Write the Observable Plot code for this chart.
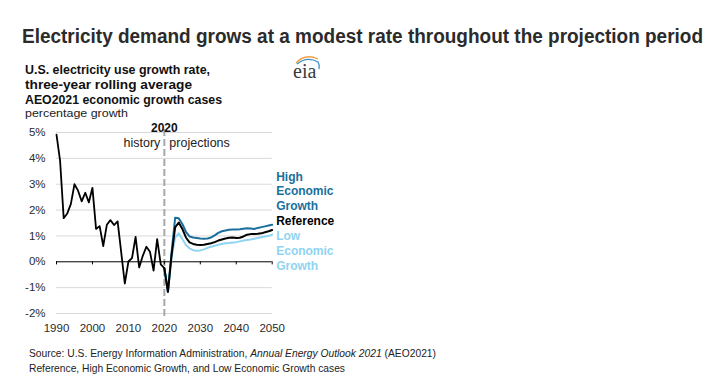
<!DOCTYPE html>
<html>
<head>
<meta charset="utf-8">
<script src="https://cdn.jsdelivr.net/npm/d3@7"></script>
<script src="https://cdn.jsdelivr.net/npm/@observablehq/plot@0.6"></script>
<style>
  html, body { margin: 0; padding: 0; background: #fff; }
  #root { position: relative; width: 713px; height: 382px; overflow: hidden; font-family: "Liberation Sans", Arial, sans-serif; color: #2b2b2b; }
  .t { position: absolute; white-space: nowrap; transform-origin: 0 0; line-height: 1; }
  #chart { position: absolute; left: 0; top: 110px; }
</style>
</head>
<body>
<div id="root">
  <div id="chart"></div>
  <div class="t" id="title" style="left:22px; top:26px; font-size:20px; font-weight:bold;">Electricity demand grows at a modest rate throughout the projection period</div>
  <div class="t" id="s1" style="left:25px; top:64px; font-size:12.5px; font-weight:bold; color:#111;">U.S. electricity use growth rate,</div>
  <div class="t" id="s2" style="left:25px; top:79px; font-size:12.5px; font-weight:bold; color:#111;">three-year rolling average</div>
  <div class="t" id="s3" style="left:25px; top:94px; font-size:12.5px; font-weight:bold; color:#111;">AEO2021 economic growth cases</div>
  <div class="t" id="s4" style="left:25px; top:108px; font-size:11.5px; color:#222;">percentage growth</div>
  <div class="t" id="src1" style="left:29px; top:348px; font-size:10.5px; color:#222;">Source: U.S. Energy Information Administration, <i>Annual Energy Outlook 2021</i> (AEO2021)</div>
  <div class="t" id="src2" style="left:29px; top:363px; font-size:10.5px; color:#222;">Reference, High Economic Growth, and Low Economic Growth cases</div>
  <svg style="position:absolute; left:288px; top:50px;" width="36" height="32" viewBox="0 0 36 32">
    <path d="M8 13 Q17 3 30 9" fill="none" stroke="#f0a04b" stroke-width="1.3"/>
    <path d="M9 14 Q19 6 30 12 Q32 15 31 19" fill="none" stroke="#3a8fc9" stroke-width="1.3"/>
    <text x="5" y="28" font-family="Liberation Serif, DejaVu Serif, serif" font-size="20" fill="#3a3a3a">eia</text>
  </svg>
</div>
<script>
// ---- data ----
const histYears = d3.range(1990, 2021);
const histValues = [4.92, 3.90, 1.69, 1.87, 2.24, 3.00, 2.75, 2.34, 2.67, 2.30,
                    2.86, 1.27, 1.38, 0.61, 1.43, 1.61, 1.42, 1.56, 0.36, -0.84,
                    0.01, 0.14, 0.96, -0.22, 0.23, 0.58, 0.39, -0.34, 0.88, -0.10,
                    -0.25];
const projYears = d3.range(2020, 2051);
const refValues = [-0.25, -1.16, 0.25, 1.33, 1.52, 1.27, 0.94, 0.75, 0.69, 0.66,
                   0.65, 0.66, 0.69, 0.72, 0.76, 0.82, 0.86, 0.90, 0.93, 0.94,
                   0.92, 0.93, 0.98, 1.05, 1.07, 1.07, 1.08, 1.10, 1.14, 1.18, 1.23];
const highValues = [-0.25, -1.16, 0.35, 1.70, 1.68, 1.46, 1.16, 0.98, 0.94, 0.92,
                    0.90, 0.89, 0.90, 0.94, 1.02, 1.12, 1.18, 1.21, 1.24, 1.25,
                    1.25, 1.26, 1.28, 1.30, 1.29, 1.27, 1.31, 1.34, 1.37, 1.40, 1.43];
const lowValues = [-0.25, -1.16, 0.15, 0.94, 1.10, 0.88, 0.65, 0.52, 0.45, 0.43,
                   0.44, 0.48, 0.54, 0.58, 0.62, 0.66, 0.69, 0.72, 0.73, 0.75,
                   0.76, 0.79, 0.82, 0.84, 0.86, 0.89, 0.92, 0.95, 0.98, 1.01, 1.05];
const xTicks = [1990, 2000, 2010, 2020, 2030, 2040, 2050];
const yTicks = [-2, -1, 0, 1, 2, 3, 4, 5];
const seriesNames = ["High\nEconomic\nGrowth", "Reference", "Low\nEconomic\nGrowth"];
const dividerYear = 2020;

// ---- tables ----
const hist = histYears.map((x, i) => ({x, y: histValues[i]}));
const mk = vals => projYears.map((x, i) => ({x, y: vals[i]}));
const ref = mk(refValues), high = mk(highValues), low = mk(lowValues);

const cHigh = "#1a6f9c", cLow = "#8fd4f2", cRef = "#000000";
const font = "Liberation Sans, Arial, sans-serif";

const chart = Plot.plot({
  width: 713,
  height: 235,
  marginLeft: 56,
  marginRight: 441.3,
  marginTop: 22,
  marginBottom: 32,
  style: {background: "transparent", fontFamily: font, color: "#2b2b2b", overflow: "visible"},
  x: {domain: [1990, 2050]},
  y: {domain: [-2, 5]},
  marks: [
    Plot.ruleY(yTicks.filter(d => d !== 0), {stroke: "#d9d9d9", strokeWidth: 1}),
    Plot.axisY({ticks: yTicks, tickSize: 0, tickPadding: 11, tickFormat: d => d + "%", fontSize: 11.5, label: null}),
    Plot.axisX({ticks: xTicks, tickSize: 0, tickPadding: 10, tickFormat: d => String(d), fontSize: 11.5, label: null}),
    Plot.ruleX([dividerYear], {stroke: "#a8a8a8", strokeWidth: 2, strokeDasharray: "7,3", insetTop: -3, insetBottom: -4}),
    Plot.ruleY([0], {stroke: "#000", strokeWidth: 1}),
    Plot.ruleX(xTicks, {y1: 0, y2: -0.12, stroke: "#000", strokeWidth: 1}),
    Plot.line(low, {x: "x", y: "y", stroke: cLow, strokeWidth: 2, strokeLinejoin: "round"}),
    Plot.line(high, {x: "x", y: "y", stroke: cHigh, strokeWidth: 2, strokeLinejoin: "round"}),
    Plot.line(ref, {x: "x", y: "y", stroke: cRef, strokeWidth: 2, strokeLinejoin: "round"}),
    Plot.line(hist, {x: "x", y: "y", stroke: cRef, strokeWidth: 1.8, strokeLinejoin: "round"}),
    Plot.text([String(dividerYear)], {x: dividerYear, frameAnchor: "top", dy: -9, text: d => d, fontWeight: "bold", fontSize: 12, fill: "#111"}),
    Plot.text(["history"], {x: dividerYear, frameAnchor: "top", dy: 6, dx: -4, textAnchor: "end", text: d => d, fontSize: 12.5, fill: "#222"}),
    Plot.text(["projections"], {x: dividerYear, frameAnchor: "top", dy: 6, dx: 5, textAnchor: "start", text: d => d, fontSize: 12.5, fill: "#222"}),
    Plot.text([high[high.length - 1]], {x: "x", y: "y", text: () => seriesNames[0], dx: 4, dy: -15, textAnchor: "start", lineAnchor: "bottom", lineHeight: 1.2, fontSize: 12, fontWeight: "bold", fill: cHigh}),
    Plot.text([ref[ref.length - 1]], {x: "x", y: "y", text: () => seriesNames[1], dx: 4, dy: -9, textAnchor: "start", lineAnchor: "middle", fontSize: 12, fontWeight: "bold", fill: cRef}),
    Plot.text([low[low.length - 1]], {x: "x", y: "y", text: () => seriesNames[2], dx: 4, dy: -5, textAnchor: "start", lineAnchor: "top", lineHeight: 1.25, fontSize: 12, fontWeight: "bold", fill: cLow})
  ]
});
document.getElementById("chart").appendChild(chart);

// fit text lines horizontally to the reference widths
function fit(id, w) {
  const el = document.getElementById(id);
  const cur = el.getBoundingClientRect().width;
  if (cur > 0) el.style.transform = `scaleX(${w / cur})`;
}
fit("title", 681);
fit("s1", 185);
fit("s2", 167);
fit("s3", 197);
fit("s4", 103);
fit("src1", 407);
fit("src2", 316);
</script>
</body>
</html>
